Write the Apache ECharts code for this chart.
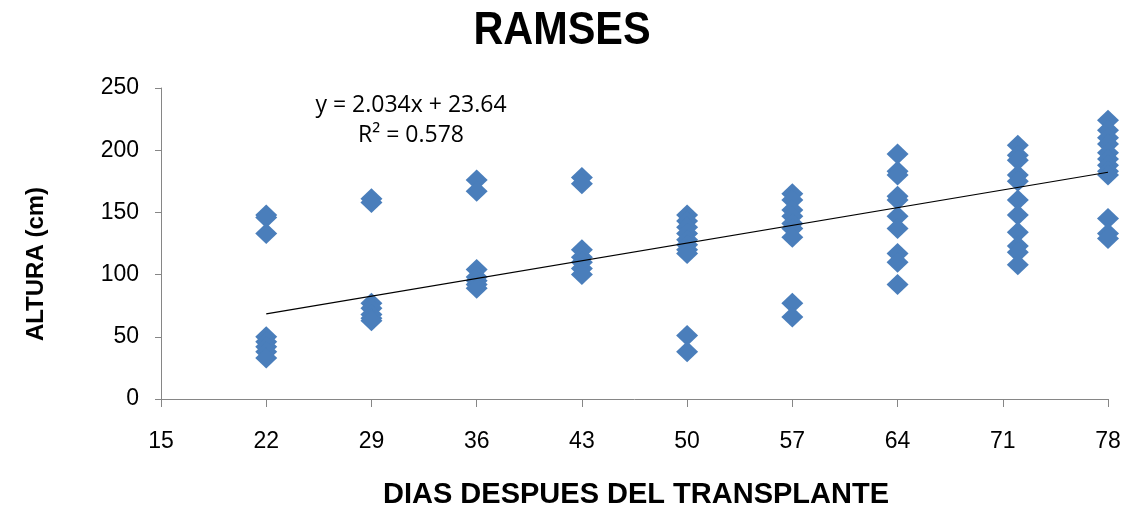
<!DOCTYPE html>
<html>
<head>
<meta charset="utf-8">
<script src="https://cdn.jsdelivr.net/npm/echarts@6/dist/echarts.min.js"></script>
<style>
  html, body { margin: 0; padding: 0; background: #fff; }
  #chart { width: 1128px; height: 507px; }
</style>
</head>
<body>
<div id="chart"></div>
<script>
// Plant height (cm) by days after transplanting, RAMSES variety
const days = [22, 29, 36, 43, 50, 57, 64, 72, 78];
const heights22 = [148, 146, 133, 50, 46, 42, 38, 33];
const heights29 = [161, 158, 77, 73, 68, 65, 63];
const heights36 = [176, 167, 104, 98, 95, 92, 89];
const heights43 = [178, 173, 120, 114, 110, 105, 100];
const heights50 = [148, 143, 138, 133, 128, 124, 120, 117, 51, 38];
const heights57 = [165, 160, 152, 147, 141, 137, 130, 77, 66];
const heights64 = [197, 183, 180, 163, 160, 147, 137, 117, 110, 92];
const heights72 = [204, 196, 192, 180, 175, 160, 148, 134, 123, 118, 108];
const heights78 = [224, 216, 210, 205, 198, 193, 188, 183, 180, 145, 133, 129];
const heightsByDay = [heights22, heights29, heights36, heights43, heights50,
                      heights57, heights64, heights72, heights78];

// Linear trend line
const slope = 2.034;
const intercept = 23.64;
const r2 = 0.578;

const xTicks = { min: 15, max: 78, step: 7 };
const yTicks = { min: 0, max: 250, step: 50 };

const points = [];
days.forEach((d, i) => heightsByDay[i].forEach(h => points.push([d, h])));

const trendX = [days[0], days[days.length - 1]];
const trend = trendX.map(x => [x, slope * x + intercept]);

const sans = '"Liberation Sans", Arial, sans-serif';
const chart = echarts.init(document.getElementById('chart'), null, { renderer: 'canvas' });
const tickFont = { fontFamily: sans, fontSize: 23, color: '#000' };

chart.setOption({
  animation: false,
  backgroundColor: '#fff',
  grid: { left: 161, right: 20, top: 88, bottom: 108 },
  xAxis: {
    type: 'value',
    min: xTicks.min, max: xTicks.max, interval: xTicks.step,
    axisLine: { show: true, onZero: false, lineStyle: { color: '#868686', width: 1 } },
    axisTick: { show: true, inside: false, length: 8, lineStyle: { color: '#868686' } },
    axisLabel: Object.assign({ margin: 31 }, tickFont),
    splitLine: { show: false }
  },
  yAxis: {
    type: 'value',
    min: yTicks.min, max: yTicks.max, interval: yTicks.step,
    axisLine: { show: true, lineStyle: { color: '#868686', width: 1 } },
    axisTick: { show: true, inside: false, length: 6, lineStyle: { color: '#868686' } },
    axisLabel: Object.assign({ margin: 22 }, tickFont),
    splitLine: { show: false }
  },
  graphic: [
    {
      type: 'text', x: 562, y: 31, scaleX: 0.9,
      style: {
        text: 'RAMSES', textAlign: 'center', textVerticalAlign: 'middle',
        font: 'bold 46px ' + sans, fill: '#000'
      }
    },
    {
      type: 'text', x: 636, y: 495,
      style: {
        text: 'DIAS DESPUES DEL TRANSPLANTE', textAlign: 'center', textVerticalAlign: 'middle',
        font: 'bold 29px ' + sans, fill: '#000'
      }
    },
    {
      type: 'text', x: 36, y: 264, rotation: Math.PI / 2,
      style: {
        text: 'ALTURA (cm)', textAlign: 'center', textVerticalAlign: 'middle',
        font: 'bold 24px ' + sans, fill: '#000'
      }
    },
    {
      type: 'text', x: 411, y: 120,
      style: {
        text: 'y = ' + slope + 'x + ' + intercept + '\nR² = ' + r2,
        textAlign: 'center', textVerticalAlign: 'middle', lineHeight: 30,
        font: '23px "Open Sans", "Liberation Sans", sans-serif', fill: '#000'
      }
    }
  ],
  series: [
    {
      type: 'scatter',
      data: points,
      symbol: 'diamond',
      symbolSize: [22, 21],
      itemStyle: { color: '#4A7EBB', opacity: 1 },
      z: 2
    },
    {
      type: 'line',
      data: trend,
      symbol: 'none',
      lineStyle: { color: '#000', width: 1.2 },
      z: 3
    }
  ]
});
</script>
</body>
</html>
